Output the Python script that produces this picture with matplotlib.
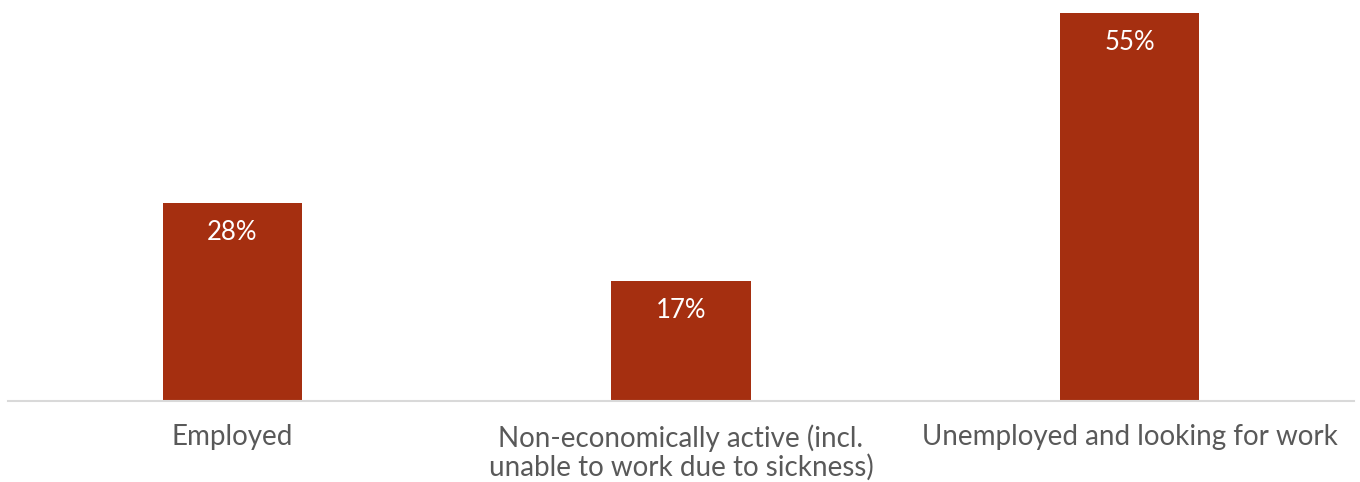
import matplotlib.pyplot as plt

categories = ["Employed",
              "Non-economically active (incl.\nunable to work due to sickness)",
              "Unemployed and looking for work"]
values = [28, 17, 55]

bar_color = "#A52F10"
text_color = "#595959"

plt.rcParams['font.family'] = ['Lato', 'DejaVu Sans']

fig = plt.figure(figsize=(13.6, 4.82), dpi=100)
ax = fig.add_axes([8.25 / 1360, 1 - 401 / 482, 1345.5 / 1360, 388 / 482])

x = range(len(categories))
bars = ax.bar(x, values, width=0.31, color=bar_color, zorder=2)
ax.set_xlim(-0.5, len(categories) - 0.5)
ax.set_ylim(0, 55)

for b, v in zip(bars, values):
    ax.annotate(f"{v}%", (b.get_x() + b.get_width() / 2, v),
                xytext=(0, -12), textcoords="offset points",
                ha="center", va="top", color="white", fontsize=18.5)

ax.set_xticks(list(x))
ax.set_xticklabels(categories, fontsize=20, color=text_color, linespacing=1.12)
ax.tick_params(axis="x", length=0, pad=16.5)
ax.set_yticks([])
for s in ["top", "right", "left"]:
    ax.spines[s].set_visible(False)
ax.spines["bottom"].set_color("#D9D9D9")
ax.spines["bottom"].set_linewidth(1.5)
ax.spines["bottom"].set_zorder(3)

fig.savefig("out.png", dpi=100)
